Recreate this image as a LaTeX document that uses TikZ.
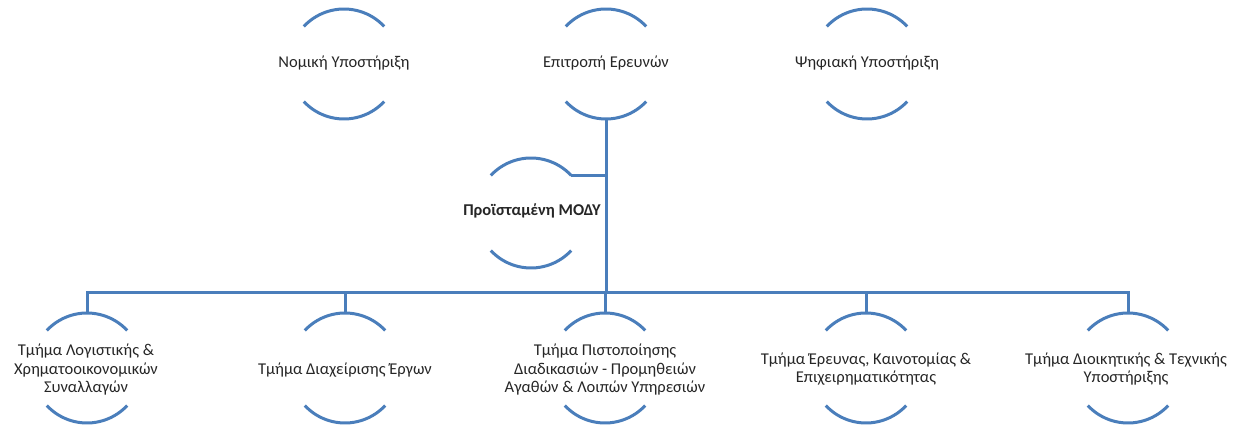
\documentclass[tikz,border=0pt]{standalone}
\usepackage{fontspec}
\setmainfont{Carlito}
\definecolor{lineblue}{RGB}{74,126,187}
\definecolor{txt}{RGB}{38,38,38}
\begin{document}
\begin{tikzpicture}[x=1pt,y=1pt,
  ring/.style={circle, minimum size=110pt, inner sep=0pt, outer sep=0pt, draw=none},
  lbl/.style={align=center, text=txt, font=\fontsize{16.5}{18.5}\selectfont, inner sep=0pt},
  arcline/.style={draw=lineblue, line width=3pt},
  conn/.style={draw=lineblue, line width=3pt}]
\useasboundingbox (0,0) rectangle (1237,425);
\newcommand\ringarcs[1]{%
  \draw[arcline] (#1.43) arc[start angle=43,end angle=137,radius=55pt];
  \draw[arcline] (#1.223) arc[start angle=223,end angle=317,radius=55pt];}
% top row
\node[ring] (nu) at (344,361) {};
\node[ring] (ep) at (606,361) {};
\node[ring] (ps) at (867,361) {};
\node[lbl] (nu-t) at (344,362) {Νομική Υποστήριξη};
\node[lbl] (ep-t) at (606,362) {Επιτροπή Ερευνών};
\node[lbl] (ps-t) at (867,362) {Ψηφιακή Υποστήριξη};
% manager
\node[ring] (pm) at (531,212) {};
\node[lbl, font=\fontsize{16.5}{18.5}\selectfont\bfseries] (pm-t) at (532,214) {Προϊσταμένη ΜΟΔΥ};
% bottom row
\node[ring] (c1) at (87,57) {};
\node[ring] (c2) at (345,57) {};
\node[ring] (c3) at (605,57) {};
\node[ring] (c4) at (866,57) {};
\node[ring] (c5) at (1128,57) {};
\node[lbl] (c1-t) at (86,55) {Τμήμα Λογιστικής \&\\Χρηματοοικονομικών\\Συναλλαγών};
\node[lbl] (c2-t) at (345,55) {Τμήμα Διαχείρισης Έργων};
\node[lbl] (c3-t) at (605,55) {Τμήμα Πιστοποίησης\\Διαδικασιών - Προμηθειών\\Αγαθών \& Λοιπών Υπηρεσιών};
\node[lbl] (c4-t) at (866,56) {Τμήμα Έρευνας, Καινοτομίας \&\\Επιχειρηματικότητας};
\node[lbl] (c5-t) at (1126,56) {Τμήμα Διοικητικής \& Τεχνικής\\Υποστήριξης};
\foreach \n in {nu,ep,ps,pm,c1,c2,c3,c4,c5} {\ringarcs{\n}}
% connectors
\coordinate (bus) at (605,132);
\draw[conn] (ep.south) -- (ep.south |- bus);
\draw[conn] (pm.43) -- (pm.43 -| ep.south);
\draw[conn] (c1.north) -- (c1.north |- bus) -- (c5.north |- bus) -- (c5.north);
\draw[conn] (c2.north) -- (c2.north |- bus);
\draw[conn] (c3.north) -- (c3.north |- bus);
\draw[conn] (c4.north) -- (c4.north |- bus);
\end{tikzpicture}
\end{document}
